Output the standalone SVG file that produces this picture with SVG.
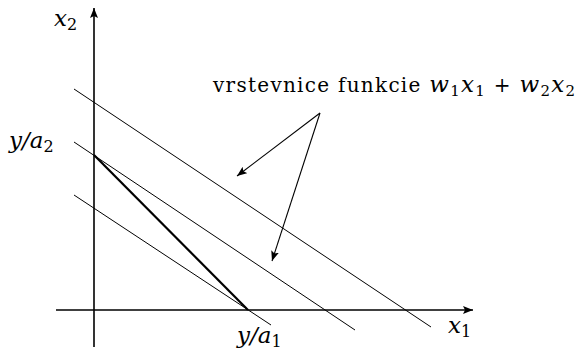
<svg xmlns="http://www.w3.org/2000/svg" width="577" height="355" viewBox="0 0 577 355">
<defs>
<style>
.ax{stroke:#000;stroke-width:1.6;fill:none}
.lv{stroke:#000;stroke-width:1;fill:none}
.th{stroke:#000;stroke-width:2.2;fill:none}
.ar{stroke:#000;stroke-width:1.1;fill:none}
text{fill:#000}
</style>
<marker id="ah" viewBox="0 0 10 8" refX="10" refY="4" markerWidth="10" markerHeight="8" markerUnits="userSpaceOnUse" orient="auto">
<path d="M0,0 L10,4 L0,8 L2,4 Z" fill="#000"/>
</marker>
</defs>
<g id="connectors">
<line id="x1-axis" class="ax" x1="56" y1="310" x2="473" y2="310" marker-end="url(#ah)"/>
<line id="x2-axis" class="ax" x1="94" y1="347" x2="94" y2="8" marker-end="url(#ah)"/>
<line id="level-top" class="lv" x1="74" y1="89" x2="431" y2="327"/>
<line id="level-mid" class="lv" x1="74" y1="142" x2="355" y2="330"/>
<line id="level-bot" class="lv" x1="74" y1="195" x2="271" y2="325"/>
<line id="constraint" class="th" x1="94" y1="155" x2="248" y2="310"/>
<line id="arrow1" class="ar" x1="320" y1="113" x2="237" y2="176" marker-end="url(#ah)"/>
<line id="arrow2" class="ar" x1="320" y1="113" x2="272" y2="261" marker-end="url(#ah)"/>
</g>
<g id="labels" font-family="'DejaVu Serif', 'Liberation Serif', serif">
<text x="54" y="26" font-size="23" font-style="italic">x<tspan font-size="16" font-style="normal" dy="4">2</tspan></text>
<text x="9" y="148" font-size="23" font-style="italic">y/a<tspan font-size="16" font-style="normal" dy="4">2</tspan></text>
<text x="237" y="343" font-size="23" font-style="italic">y/a<tspan font-size="16" font-style="normal" dy="4">1</tspan></text>
<text x="448" y="333" font-size="23" font-style="italic">x<tspan font-size="16" font-style="normal" dy="4">1</tspan></text>
<text x="213" y="92" font-size="20" textLength="362" lengthAdjust="spacing">vrstevnice funkcie <tspan font-style="italic" font-size="23">w</tspan><tspan font-size="15" dy="4">1</tspan><tspan font-style="italic" font-size="23" dy="-4">x</tspan><tspan font-size="15" dy="4">1</tspan><tspan dy="-4"> + </tspan><tspan font-style="italic" font-size="23">w</tspan><tspan font-size="15" dy="4">2</tspan><tspan font-style="italic" font-size="23" dy="-4">x</tspan><tspan font-size="15" dy="4">2</tspan></text>
</g>
</svg>
